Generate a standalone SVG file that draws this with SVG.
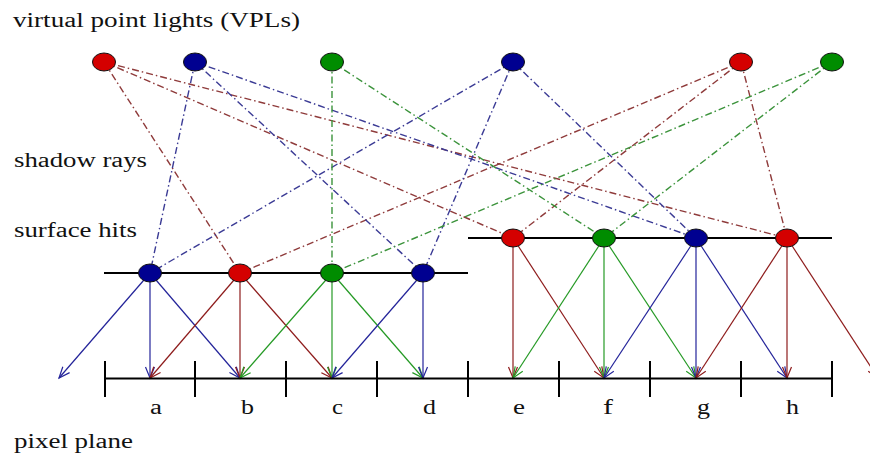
<svg xmlns="http://www.w3.org/2000/svg" width="870" height="457" viewBox="0 0 870 457">
<defs>
<marker id="mr" markerUnits="userSpaceOnUse" markerWidth="16" markerHeight="14" viewBox="-13 -7 16 14" refX="0" refY="0" orient="auto" overflow="visible"><path d="M-11,-4.5 L0,0 L-11,4.5" fill="none" stroke="#8e1c1c" stroke-width="1.2"/></marker>
<marker id="mb" markerUnits="userSpaceOnUse" markerWidth="16" markerHeight="14" viewBox="-13 -7 16 14" refX="0" refY="0" orient="auto" overflow="visible"><path d="M-11,-4.5 L0,0 L-11,4.5" fill="none" stroke="#24249a" stroke-width="1.2"/></marker>
<marker id="mg" markerUnits="userSpaceOnUse" markerWidth="16" markerHeight="14" viewBox="-13 -7 16 14" refX="0" refY="0" orient="auto" overflow="visible"><path d="M-11,-4.5 L0,0 L-11,4.5" fill="none" stroke="#259a25" stroke-width="1.2"/></marker>
</defs>
<style>
.lbl{font-family:"Liberation Serif","Times New Roman",serif;font-size:20px;fill:#111}
.sr{fill:none;stroke-width:1.4;stroke-dasharray:7 3 1.5 3}
.sr.r{stroke:#8f3b3b}
.sr.b{stroke:#3b3b95}
.sr.g{stroke:#3b933b}
.ar{fill:none;stroke-width:1.2}
.ar.r{stroke:#8e1c1c;marker-end:url(#mr)}
.ar.b{stroke:#24249a;marker-end:url(#mb)}
.ar.g{stroke:#259a25;marker-end:url(#mg)}
.n{stroke:#111;stroke-width:1}
.n.r{fill:#d40000}
.n.b{fill:#000090}
.n.g{fill:#008c00}
.ax{stroke:#000;stroke-width:2;fill:none}
</style>
<rect width="870" height="457" fill="#fff"/>

<text class="lbl" x="13" y="27" textLength="287" lengthAdjust="spacingAndGlyphs">virtual point lights (VPLs)</text>
<text class="lbl" x="14" y="167" textLength="133" lengthAdjust="spacingAndGlyphs">shadow rays</text>
<text class="lbl" x="14" y="237" textLength="123" lengthAdjust="spacingAndGlyphs">surface hits</text>
<text class="lbl" x="14" y="448" textLength="119" lengthAdjust="spacingAndGlyphs">pixel plane</text>

<g id="connectors">
<g id="shadow-rays">
<line class="sr r" x1="104" y1="62" x2="240" y2="273"/>
<line class="sr r" x1="104" y1="62" x2="513" y2="238"/>
<line class="sr r" x1="104" y1="62" x2="787" y2="238"/>
<line class="sr r" x1="741" y1="62" x2="240" y2="273"/>
<line class="sr r" x1="741" y1="62" x2="513" y2="238"/>
<line class="sr r" x1="741" y1="62" x2="787" y2="238"/>
<line class="sr b" x1="195" y1="62" x2="150" y2="273"/>
<line class="sr b" x1="195" y1="62" x2="423" y2="273"/>
<line class="sr b" x1="195" y1="62" x2="696" y2="238"/>
<line class="sr b" x1="513" y1="62" x2="150" y2="273"/>
<line class="sr b" x1="513" y1="62" x2="423" y2="273"/>
<line class="sr b" x1="513" y1="62" x2="696" y2="238"/>
<line class="sr g" x1="332" y1="62" x2="332" y2="273"/>
<line class="sr g" x1="332" y1="62" x2="604" y2="238"/>
<line class="sr g" x1="832" y1="62" x2="332" y2="273"/>
<line class="sr g" x1="832" y1="62" x2="604" y2="238"/>
</g>
<g id="reflections">
<line class="ar b" x1="150" y1="273" x2="59" y2="378"/>
<line class="ar b" x1="150" y1="273" x2="150" y2="378"/>
<line class="ar b" x1="150" y1="273" x2="240" y2="378"/>
<line class="ar r" x1="240" y1="273" x2="150" y2="378"/>
<line class="ar r" x1="240" y1="273" x2="240" y2="378"/>
<line class="ar r" x1="240" y1="273" x2="332" y2="378"/>
<line class="ar g" x1="332" y1="273" x2="240" y2="378"/>
<line class="ar g" x1="332" y1="273" x2="332" y2="378"/>
<line class="ar g" x1="332" y1="273" x2="423" y2="378"/>
<line class="ar b" x1="423" y1="273" x2="332" y2="378"/>
<line class="ar b" x1="423" y1="273" x2="423" y2="378"/>
<line class="ar r" x1="513" y1="238" x2="513" y2="378"/>
<line class="ar r" x1="513" y1="238" x2="604" y2="378"/>
<line class="ar g" x1="604" y1="238" x2="513" y2="378"/>
<line class="ar g" x1="604" y1="238" x2="604" y2="378"/>
<line class="ar g" x1="604" y1="238" x2="696" y2="378"/>
<line class="ar b" x1="696" y1="238" x2="604" y2="378"/>
<line class="ar b" x1="696" y1="238" x2="696" y2="378"/>
<line class="ar b" x1="696" y1="238" x2="787" y2="378"/>
<line class="ar r" x1="787" y1="238" x2="696" y2="378"/>
<line class="ar r" x1="787" y1="238" x2="787" y2="378"/>
<line class="ar r" x1="787" y1="238" x2="878" y2="378"/>
</g>
</g>

<g id="surfaces">
<line class="ax" x1="104" y1="273" x2="468" y2="273"/>
<line class="ax" x1="468" y1="238" x2="832" y2="238"/>
</g>

<g id="pixel-plane">
<line class="ax" x1="105" y1="378.5" x2="832" y2="378.5"/>
<path class="ax" d="M105,361V397M195,361V397M286,361V397M377,361V397M468,361V397M559,361V397M650,361V397M741,361V397M832,361V397"/>
<text class="lbl" x="150" y="414" textLength="12" lengthAdjust="spacingAndGlyphs">a</text>
<text class="lbl" x="241" y="414" textLength="13" lengthAdjust="spacingAndGlyphs">b</text>
<text class="lbl" x="332" y="414" textLength="11" lengthAdjust="spacingAndGlyphs">c</text>
<text class="lbl" x="423" y="414" textLength="13" lengthAdjust="spacingAndGlyphs">d</text>
<text class="lbl" x="513" y="414" textLength="12" lengthAdjust="spacingAndGlyphs">e</text>
<text class="lbl" x="603" y="414" textLength="10" lengthAdjust="spacingAndGlyphs">f</text>
<text class="lbl" x="697" y="414" textLength="13" lengthAdjust="spacingAndGlyphs">g</text>
<text class="lbl" x="786" y="414" textLength="13" lengthAdjust="spacingAndGlyphs">h</text>
</g>

<g id="vpl-red-1"><ellipse class="n r" cx="104" cy="62" rx="11.5" ry="9"/></g>
<g id="vpl-blue-1"><ellipse class="n b" cx="195" cy="62" rx="11.5" ry="9"/></g>
<g id="vpl-green-1"><ellipse class="n g" cx="332" cy="62" rx="11.5" ry="9"/></g>
<g id="vpl-blue-2"><ellipse class="n b" cx="513" cy="62" rx="11.5" ry="9"/></g>
<g id="vpl-red-2"><ellipse class="n r" cx="741" cy="62" rx="11.5" ry="9"/></g>
<g id="vpl-green-2"><ellipse class="n g" cx="832" cy="62" rx="11.5" ry="9"/></g>

<g id="hit-a"><ellipse class="n b" cx="150" cy="273" rx="11.5" ry="9"/></g>
<g id="hit-b"><ellipse class="n r" cx="240" cy="273" rx="11.5" ry="9"/></g>
<g id="hit-c"><ellipse class="n g" cx="332" cy="273" rx="11.5" ry="9"/></g>
<g id="hit-d"><ellipse class="n b" cx="423" cy="273" rx="11.5" ry="9"/></g>
<g id="hit-e"><ellipse class="n r" cx="513" cy="238" rx="11.5" ry="9"/></g>
<g id="hit-f"><ellipse class="n g" cx="604" cy="238" rx="11.5" ry="9"/></g>
<g id="hit-g"><ellipse class="n b" cx="696" cy="238" rx="11.5" ry="9"/></g>
<g id="hit-h"><ellipse class="n r" cx="787" cy="238" rx="11.5" ry="9"/></g>
</svg>
